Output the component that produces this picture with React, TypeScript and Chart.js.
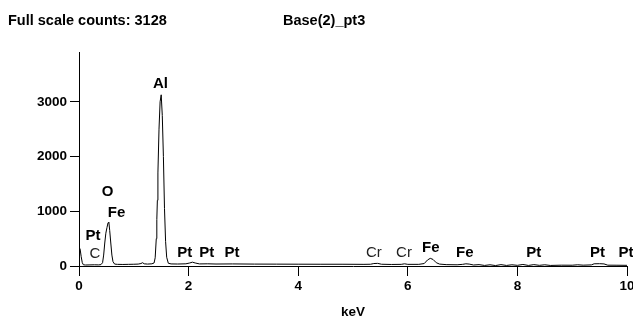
import React, { useEffect, useRef } from "react";
import { Chart, registerables } from "chart.js";

Chart.register(...registerables);

// ---- data ----
const headerLeft = "Full scale counts: 3128";
const headerRight = "Base(2)_pt3";
const xAxisTitle = "keV";

const xTicks = [0, 2, 4, 6, 8, 10];
const yTicks = [0, 1000, 2000, 3000];
const yMax = 3910;

const energies = [
  0.0, 0.02, 0.04, 0.06, 0.08, 0.12, 0.2, 0.28, 0.36, 0.4,
  0.43, 0.45, 0.47, 0.49, 0.51, 0.53, 0.545, 0.56, 0.58, 0.6,
  0.62, 0.65, 0.7, 0.8, 0.9, 1.0, 1.08, 1.13, 1.16, 1.19,
  1.25, 1.33, 1.37, 1.39, 1.41, 1.42, 1.43, 1.44, 1.46, 1.48,
  1.5, 1.52, 1.54, 1.56, 1.58, 1.6, 1.63, 1.68, 1.8, 1.95,
  2.02, 2.07, 2.12, 2.2, 2.35, 2.5, 2.8, 3.2, 3.6, 4.0,
  4.4, 4.8, 5.2, 5.32, 5.38, 5.45, 5.52, 5.7, 5.88, 5.94,
  6.0, 6.2, 6.3, 6.36, 6.41, 6.46, 6.52, 6.58, 6.7, 6.9,
  7.0, 7.06, 7.12, 7.2, 7.3, 7.4, 7.5, 7.6, 7.7, 7.8,
  7.9, 8.0, 8.1, 8.2, 8.3, 8.4, 8.5, 8.6, 8.8, 9.0,
  9.1, 9.2, 9.35, 9.4, 9.5, 9.58, 9.65, 9.8, 10.0,
];
const counts = [
  340, 310, 170, 60, 22, 18, 20, 22, 20, 25,
  60, 200, 420, 600, 700, 790, 800, 650, 420, 200,
  80, 35, 30, 28, 30, 32, 35, 45, 60, 40,
  35, 40, 55, 150, 500, 850, 1200, 1700, 2500, 3000,
  3128, 2750, 2000, 1050, 450, 160, 50, 38, 36, 40,
  55, 70, 55, 38, 40, 36, 38, 35, 34, 33,
  32, 32, 30, 32, 45, 48, 32, 28, 30, 40,
  30, 30, 45, 110, 140, 120, 60, 35, 25, 22,
  30, 40, 35, 18, 25, 10, 22, 8, 25, 10,
  22, 12, 28, 10, 25, 12, 22, 10, 15, 14,
  22, 15, 20, 40, 42, 38, 15, 14, 12,
];

const peakLabels = ["Pt", "C", "O", "Fe", "Al", "Pt", "Pt", "Pt", "Cr", "Cr", "Fe", "Fe", "Pt", "Pt", "Pt"];
const peakEnergies = [0.255, 0.29, 0.52, 0.684, 1.487, 1.93, 2.33, 2.79, 5.38, 5.93, 6.42, 7.04, 8.3, 9.46, 9.98];
const peakLabelCounts = [548, 219, 1353, 969, 3327, 238, 238, 238, 238, 238, 338, 238, 238, 238, 238];
const faintLabels = ["C", "Cr"];

const FONT = '"Liberation Sans", Arial, Helvetica, sans-serif';

const textPlugin = {
  id: "edsText",
  afterDraw(chart: any) {
    const ctx = chart.ctx;
    const xs = chart.scales.x;
    const ys = chart.scales.y;
    ctx.save();
    ctx.fillStyle = "#000";
    ctx.textBaseline = "middle";
    ctx.textAlign = "left";
    ctx.font = `bold 14.5px ${FONT}`;
    ctx.fillText(headerLeft, 8, 21);
    ctx.fillText(headerRight, 283, 21);
    ctx.textAlign = "center";
    peakLabels.forEach((t, i) => {
      const faint = faintLabels.includes(t);
      ctx.font = `${faint ? "normal" : "bold"} 15px ${FONT}`;
      ctx.fillStyle = faint ? "#222" : "#000";
      ctx.fillText(t, xs.getPixelForValue(peakEnergies[i]), ys.getPixelForValue(peakLabelCounts[i]));
    });
    ctx.restore();
  },
};

export default function App() {
  const ref = useRef<HTMLCanvasElement>(null);
  useEffect(() => {
    if (!ref.current) return;
    const chart = new Chart(ref.current, {
      type: "line",
      data: {
        datasets: [
          {
            data: energies.map((e, i) => ({ x: e, y: counts[i] })),
            borderColor: "#000",
            borderWidth: 1,
            pointRadius: 0,
            tension: 0,
            fill: false,
          },
        ],
      },
      options: {
        responsive: false,
        animation: false,
        layout: { padding: { top: 52, right: 6, left: 0, bottom: 0 } },
        plugins: { legend: { display: false }, title: { display: false }, tooltip: { enabled: false } },
        scales: {
          x: {
            type: "linear",
            min: 0,
            max: 10,
            afterBuildTicks: (s: any) => {
              s.ticks = xTicks.map((v) => ({ value: v }));
            },
            afterFit: (s: any) => {
              s.height = 54;
              s.paddingLeft = 0;
              s.paddingRight = 0;
            },
            ticks: {
              color: "#000",
              font: { family: FONT, size: 13.5, weight: "bold" },
              padding: 2,
              maxRotation: 0,
              callback: (v: any) => String(v),
            },
            grid: { drawOnChartArea: false, tickLength: 10, color: "#000", tickColor: "#000" },
            border: { color: "#000", width: 1 },
            title: { display: true, text: xAxisTitle, color: "#000", font: { family: FONT, size: 13.5, weight: "bold" }, padding: { top: 0, bottom: 0 } },
          },
          y: {
            min: 0,
            max: yMax,
            afterBuildTicks: (s: any) => {
              s.ticks = yTicks.map((v) => ({ value: v }));
            },
            afterFit: (s: any) => {
              s.width = 79;
            },
            ticks: {
              color: "#000",
              font: { family: FONT, size: 13.5, weight: "bold" },
              padding: 3,
              callback: (v: any) => String(v),
            },
            grid: { drawOnChartArea: false, tickLength: 9, color: "#000", tickColor: "#000" },
            border: { color: "#000", width: 1 },
          },
        },
      },
      plugins: [textPlugin],
    } as any);
    return () => chart.destroy();
  }, []);
  return (
    <div style={{ position: "fixed", left: 0, top: 0, width: 633, height: 320, background: "#fff" }}>
      <canvas ref={ref} width={633} height={320} style={{ display: "block" }} />
    </div>
  );
}
